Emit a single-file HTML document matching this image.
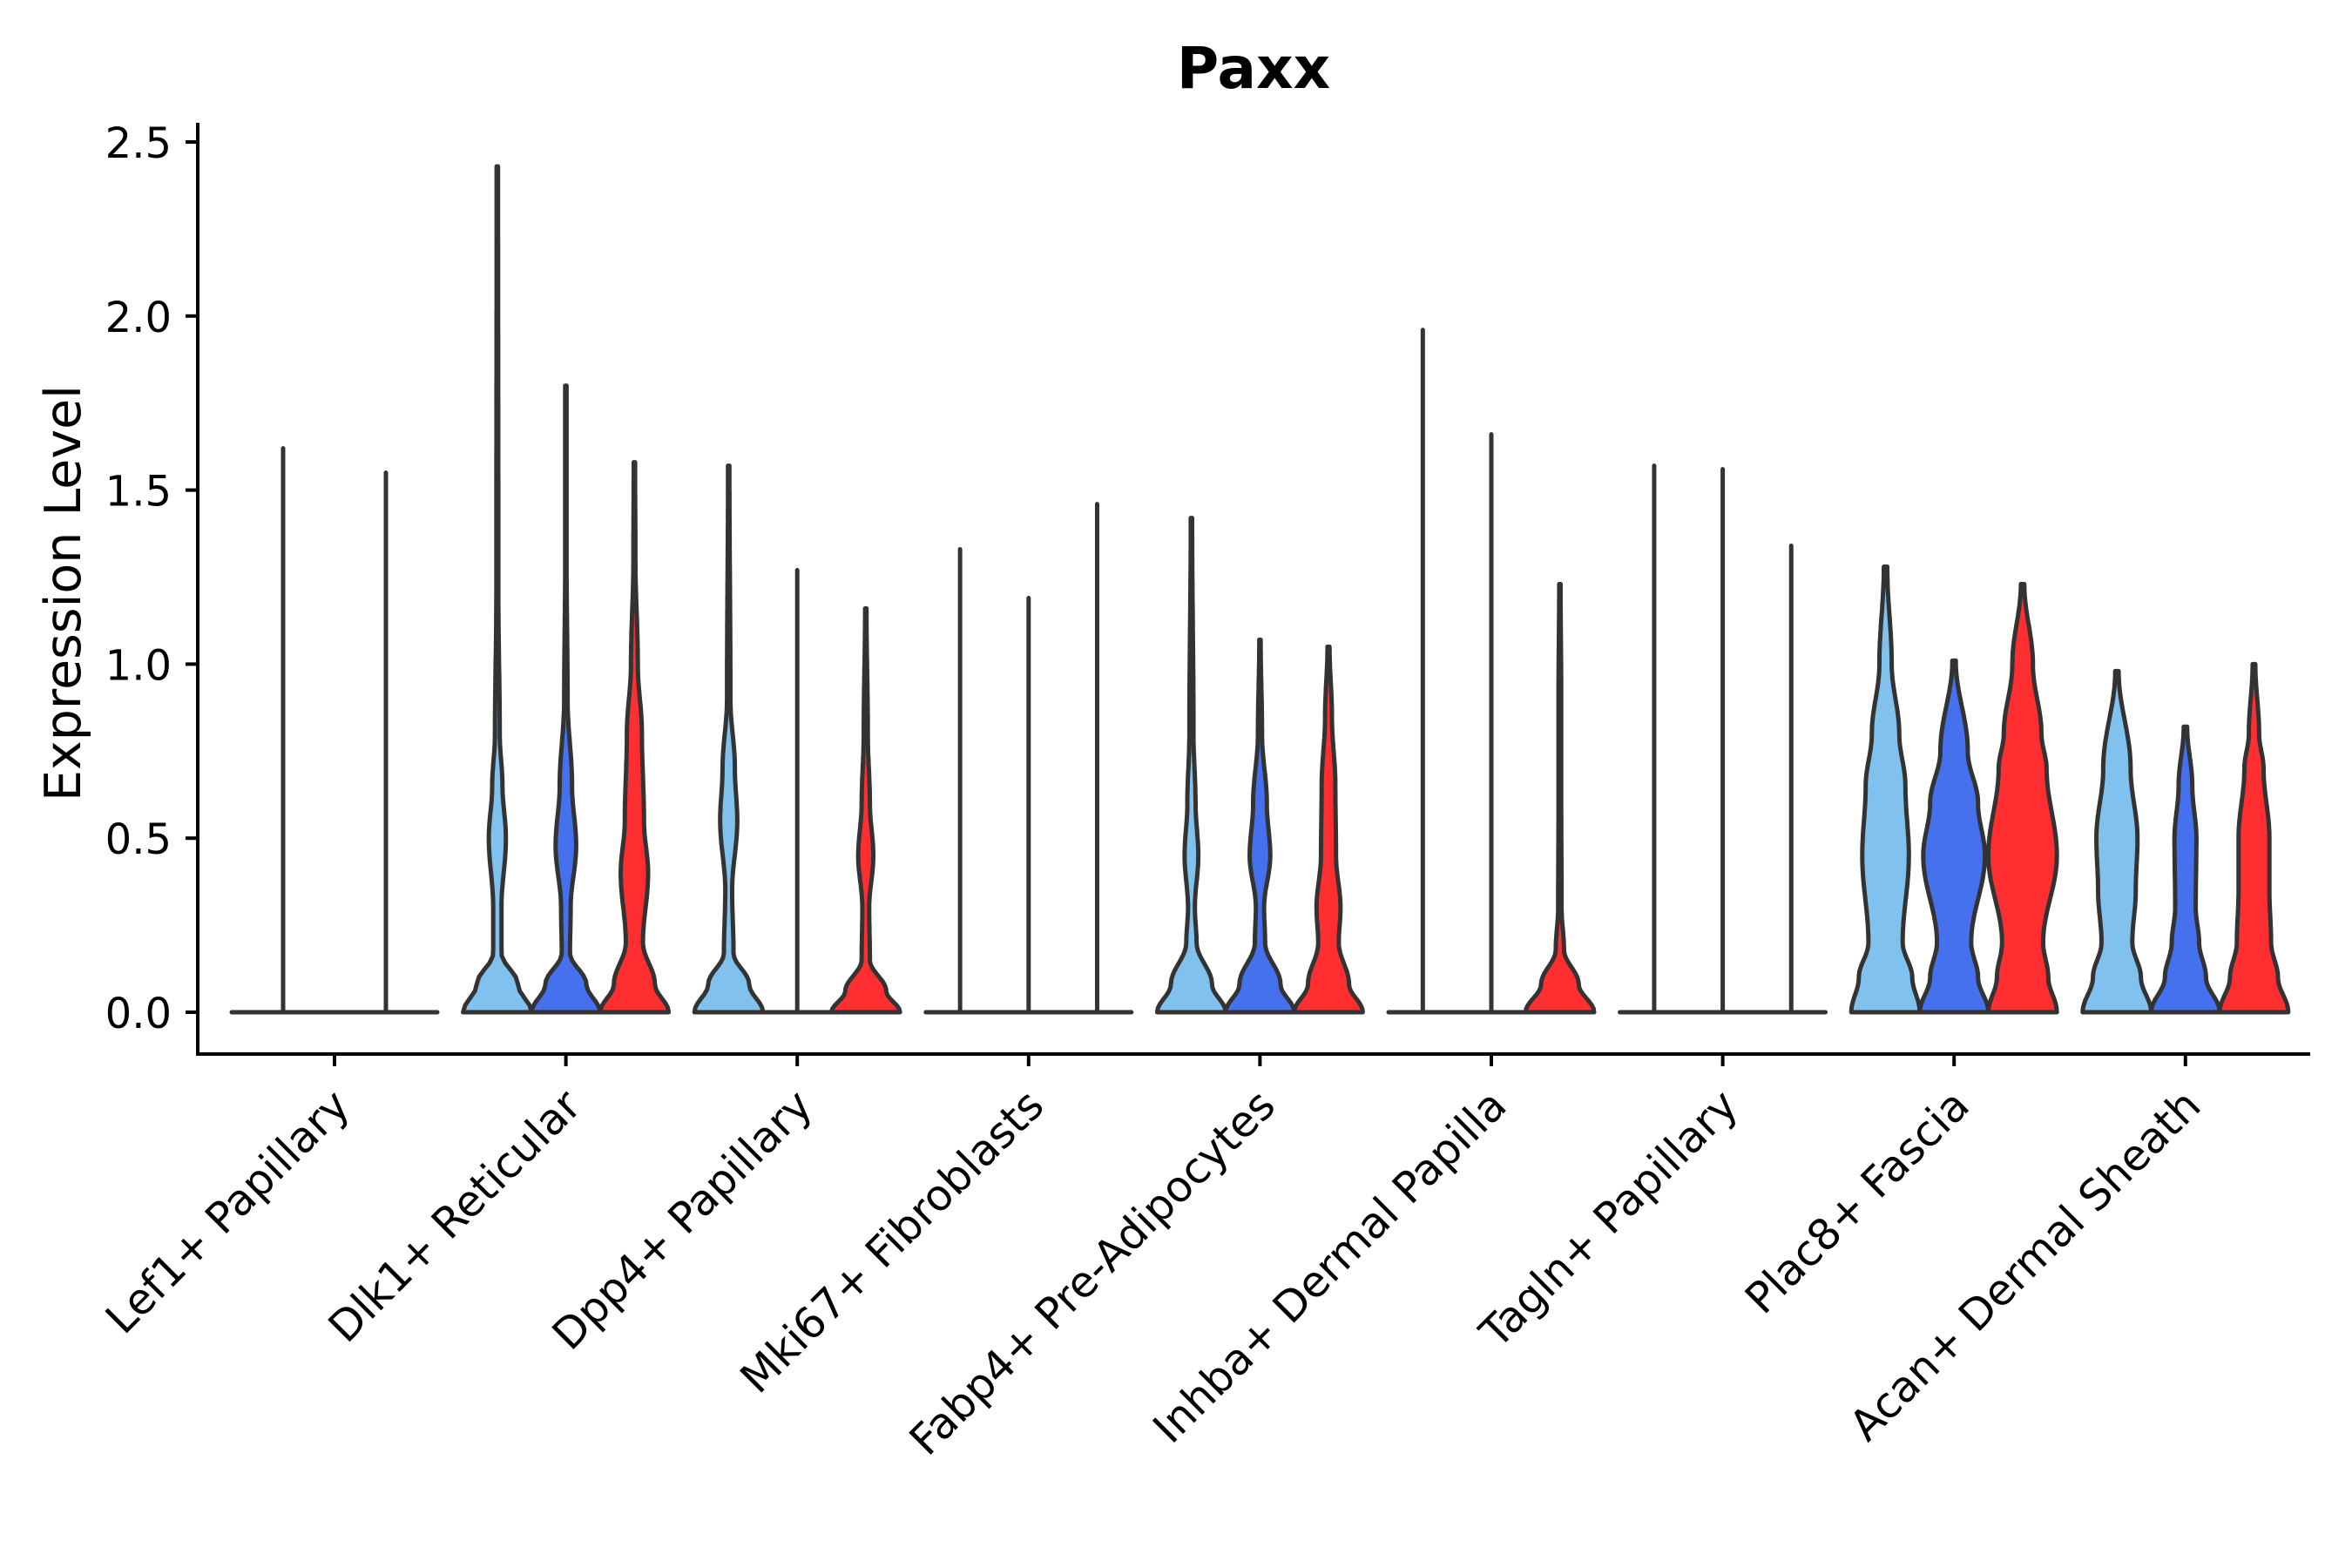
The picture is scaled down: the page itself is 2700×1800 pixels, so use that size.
<!DOCTYPE html>
<html><head><meta charset="utf-8">
<style>
html,body{margin:0;padding:0;background:#fff;}
svg{display:block;}
text{font-family:"DejaVu Sans","Liberation Sans",sans-serif;fill:#000;}
</style></head>
<body>
<svg id="chart" width="2700" height="1800" viewBox="0 0 2700 1800">
<text x="1439" y="101" text-anchor="middle" font-size="66" font-weight="bold">Paxx</text>
<text transform="translate(92,681) rotate(-90)" text-anchor="middle" font-size="57">Expression Level</text>
<g id="plot"></g>
</svg>
<script>
const categories = ["Lef1+ Papillary","Dlk1+ Reticular","Dpp4+ Papillary","Mki67+ Fibroblasts","Fabp4+ Pre-Adipocytes","Inhba+ Dermal Papilla","Tagln+ Papillary","Plac8+ Fascia","Acan+ Dermal Sheath"];
const groupColors = ["#80C1ED","#4571EE","#FF2F31"];
const yTicks = [0.0,0.5,1.0,1.5,2.0,2.5];
const yTickLabels = ["0.0","0.5","1.0","1.5","2.0","2.5"];
// groups present in each category
const groupsPerCat = [[0,2],[0,1,2],[0,1,2],[0,1,2],[0,1,2],[0,1,2],[0,1,2],[0,1,2],[0,1,2]];
// max expression per violin
const maxValues = [[1.62,1.55],[2.43,1.80,1.58],[1.57,1.27,1.16],[1.33,1.19,1.46],[1.42,1.07,1.05],[1.96,1.66,1.23],[1.57,1.56,1.34],[1.28,1.01,1.23],[0.98,0.82,1.00]];
// density profiles: [value, relative half-width]; null = flat (all zero)
const profiles = [
 [null,null],
 [[[0,1],[0.08,0.6],[0.17,0.12],[0.3,0.12],[0.5,0.25],[0.65,0.15],[0.8,0.07],[1.2,0.03],[2.43,0.02]],
  [[0,1],[0.08,0.6],[0.17,0.12],[0.3,0.14],[0.48,0.3],[0.65,0.18],[0.9,0.05],[1.3,0.02],[1.8,0.02]],
  [[0,1],[0.08,0.6],[0.2,0.25],[0.4,0.4],[0.55,0.28],[0.8,0.22],[1.0,0.1],[1.3,0.03],[1.58,0.02]]],
 [[[0,1],[0.08,0.6],[0.17,0.14],[0.35,0.1],[0.55,0.25],[0.7,0.18],[0.9,0.05],[1.57,0.02]],
  null,
  [[0,1],[0.06,0.6],[0.15,0.12],[0.3,0.1],[0.45,0.22],[0.6,0.12],[0.8,0.06],[1.16,0.02]]],
 [null,null,null],
 [[[0,1],[0.08,0.6],[0.2,0.15],[0.3,0.1],[0.45,0.2],[0.6,0.12],[0.8,0.06],[1.42,0.02]],
  [[0,1],[0.08,0.6],[0.2,0.15],[0.3,0.12],[0.45,0.3],[0.6,0.2],[0.8,0.06],[1.07,0.02]],
  [[0,1],[0.08,0.6],[0.2,0.3],[0.3,0.35],[0.45,0.22],[0.65,0.2],[0.85,0.1],[1.05,0.03]]],
 [null,null,
  [[0,1],[0.08,0.55],[0.18,0.12],[0.3,0.05],[0.6,0.04],[0.9,0.04],[1.23,0.02]]],
 [null,null,null],
 [[[0,1],[0.1,0.78],[0.2,0.5],[0.45,0.68],[0.65,0.58],[0.8,0.4],[1.0,0.18],[1.28,0.05]],
  [[0,1],[0.1,0.7],[0.2,0.5],[0.45,0.9],[0.6,0.7],[0.75,0.4],[1.01,0.05]],
  [[0,1],[0.1,0.75],[0.2,0.6],[0.45,1.0],[0.7,0.7],[0.8,0.55],[1.0,0.3],[1.23,0.05]]],
 [[[0,1],[0.1,0.7],[0.2,0.45],[0.35,0.55],[0.5,0.6],[0.7,0.4],[0.98,0.05]],
  [[0,1],[0.1,0.6],[0.2,0.4],[0.3,0.3],[0.5,0.32],[0.65,0.2],[0.82,0.05]],
  [[0,1],[0.1,0.7],[0.2,0.5],[0.35,0.45],[0.5,0.45],[0.7,0.28],[0.8,0.15],[1.0,0.04]]]
];

const svg = document.getElementById('plot');
const NS = 'http://www.w3.org/2000/svg';
const axL=227, axR=2652, axTop=141, axBot=1210;
const y0px=1162, unitPx=399.6;
const cat0=384, catStep=265.6, dodge=236;
function yScale(v){return y0px - v*unitPx;}
function xScale(i){return cat0 + i*catStep;}
function mk(tag, attrs){const e=document.createElementNS(NS,tag);for(const k in attrs)e.setAttribute(k,attrs[k]);return e;}

let ya = mk('line',{x1:axL,y1:axTop,x2:axL,y2:axBot+2,stroke:'#000','stroke-width':4});


svg.appendChild(ya);
let xa = mk('line',{x1:axL-2,y1:axBot,x2:axR,y2:axBot,stroke:'#000','stroke-width':4});


svg.appendChild(xa);

yTicks.forEach((v,i)=>{
  const y=yScale(v);
  const t=mk('line',{x1:axL-14,y1:y,x2:axL,y2:y,stroke:'#000','stroke-width':4});
  
  
  svg.appendChild(t);
  const l=mk('text',{x:axL-30,y:y+18,'text-anchor':'end','font-size':48});
  l.textContent=yTickLabels[i];
  
  
  svg.appendChild(l);
});

function interp(prof, v){
  for(let k=0;k<prof.length-1;k++){
    const a=prof[k], b=prof[k+1];
    if(v>=a[0] && v<=b[0]){
      const t=(v-a[0])/(b[0]-a[0]||1);
      const s=(1-Math.cos(Math.PI*t))/2;
      return a[1]+(b[1]-a[1])*s;
    }
  }
  return prof[prof.length-1][1];
}

categories.forEach((name,ci)=>{
  const cx=xScale(ci);
  const t=mk('line',{x1:cx,y1:axBot,x2:cx,y2:axBot+14,stroke:'#000','stroke-width':4});
  
  
  svg.appendChild(t);
  const lab=mk('text',{transform:`translate(${cx+20},${1272}) rotate(-45)`,'text-anchor':'end','font-size':49});
  lab.textContent=name;
  
  
  svg.appendChild(lab);

  const gs=groupsPerCat[ci], n=gs.length, w=dodge/n;
  gs.forEach((g,gi)=>{
    const vx=cx-dodge/2+w*(gi+0.5);
    const hw=w/2;
    const mx=maxValues[ci][gi];
    const prof=profiles[ci][gi];
    let d;
    if(!prof){
      d=`M${vx-hw},${yScale(0)} L${vx+hw},${yScale(0)} M${vx},${yScale(0)} L${vx},${yScale(mx)}`;
      const p=mk('path',{d:d,fill:'none',stroke:'#333','stroke-width':5,'stroke-linecap':'round'});
      
      
      svg.appendChild(p);
    } else {
      const N=120, right=[], left=[];
      for(let s=0;s<=N;s++){
        const v=mx*s/N;
        const ww=interp(prof,v)*hw;
        right.push([vx+ww,yScale(v)]);
        left.push([vx-ww,yScale(v)]);
      }
      left.reverse();
      d='M'+right.map(p=>p[0].toFixed(1)+','+p[1].toFixed(1)).join(' L')+' L'+left.map(p=>p[0].toFixed(1)+','+p[1].toFixed(1)).join(' L')+' Z';
      const p=mk('path',{d:d,fill:groupColors[g],stroke:'#333','stroke-width':5,'stroke-linejoin':'round'});
      
      
      svg.appendChild(p);
    }
  });
});
</script>
</body></html>
